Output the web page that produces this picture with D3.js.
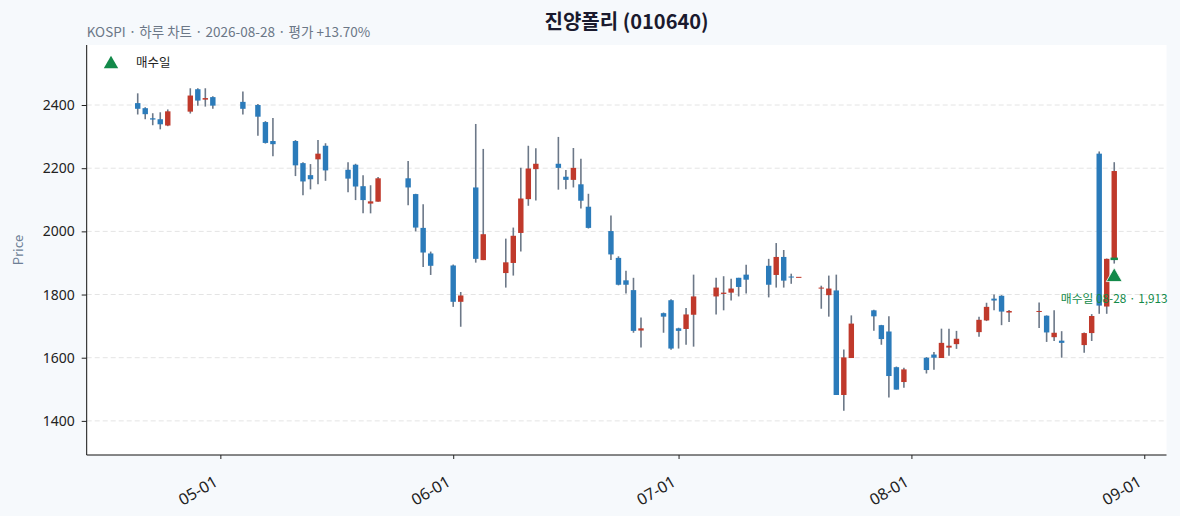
<!DOCTYPE html>
<html><head><meta charset="utf-8">
<script src="https://cdn.jsdelivr.net/npm/d3@7"></script>
<style>
body{margin:0;background:#f6f9fc;}
svg{display:block;font-family:"Noto Sans CJK KR","Noto Sans",sans-serif;}
</style></head>
<body><svg id="chart" width="1180" height="516"></svg>
<script>
const dates = ["2026-04-20","2026-04-21","2026-04-22","2026-04-23","2026-04-24","2026-04-27","2026-04-28","2026-04-29","2026-04-30",
"2026-05-04","2026-05-06","2026-05-07","2026-05-08","2026-05-11","2026-05-12","2026-05-13","2026-05-14","2026-05-15",
"2026-05-18","2026-05-19","2026-05-20","2026-05-21","2026-05-22","2026-05-26","2026-05-27","2026-05-28","2026-05-29",
"2026-06-01","2026-06-02","2026-06-04","2026-06-05","2026-06-08","2026-06-09","2026-06-10","2026-06-11","2026-06-12",
"2026-06-15","2026-06-16","2026-06-17","2026-06-18","2026-06-19","2026-06-22","2026-06-23","2026-06-24","2026-06-25","2026-06-26",
"2026-06-29","2026-06-30","2026-07-01","2026-07-02","2026-07-03","2026-07-06","2026-07-07","2026-07-08","2026-07-09","2026-07-10",
"2026-07-13","2026-07-14","2026-07-15","2026-07-16","2026-07-17","2026-07-20","2026-07-21","2026-07-22","2026-07-23","2026-07-24",
"2026-07-27","2026-07-28","2026-07-29","2026-07-30","2026-07-31","2026-08-03","2026-08-04","2026-08-05","2026-08-06","2026-08-07",
"2026-08-10","2026-08-11","2026-08-12","2026-08-13","2026-08-14","2026-08-18","2026-08-19","2026-08-20","2026-08-21",
"2026-08-24","2026-08-25","2026-08-26","2026-08-27","2026-08-28"];
const opens  = [2406,2390,2358,2355,2335,2379,2450,2417,2425,
2410,2400,2346,2286,2286,2216,2178,2228,2271,
2195,2211,2143,2088,2094,2168,2118,2011,1930,
1892,1777,2139,1909,1868,1900,1995,2102,2197,
2214,2173,2163,2149,2078,2001,1916,1845,1814,1686,
1741,1782,1693,1691,1736,1794,1802,1806,1853,1863,
1891,1862,1919,1857,1856,1819,1798,1813,1482,1599,
1750,1703,1683,1570,1523,1600,1610,1599,1632,1643,
1681,1718,1787,1796,1743,1746,1733,1665,1654,
1640,1678,2246,1762,1913];
const highs  = [2437,2393,2374,2377,2386,2453,2453,2453,2428,
2443,2403,2349,2359,2289,2219,2213,2289,2279,
2219,2214,2178,2146,2172,2223,2119,2086,1936,
1895,1808,2340,2261,1977,2012,2201,2271,2263,
2299,2194,2264,2230,2119,2050,1921,1875,1853,1727,
1743,1785,1695,1757,1863,1853,1858,1850,1853,1894,
1913,1963,1941,1866,1856,1828,1860,1863,1626,1734,
1752,1704,1731,1572,1568,1602,1618,1692,1692,1685,
1730,1774,1800,1798,1751,1775,1734,1750,1684,
1680,1738,2253,1914,2219];
const lows   = [2370,2355,2336,2323,2333,2373,2398,2395,2388,
2370,2303,2278,2238,2175,2114,2133,2149,2160,
2124,2099,2057,2057,2094,2083,2000,1887,1862,
1761,1698,1901,1909,1822,1860,1936,2081,2098,
2132,2133,2139,2072,2009,1909,1829,1803,1679,1632,
1679,1625,1629,1641,1635,1737,1750,1781,1794,1803,
1791,1822,1822,1834,1856,1755,1730,1482,1432,1599,
1685,1641,1474,1499,1505,1550,1562,1599,1606,1628,
1666,1716,1750,1703,1713,1694,1650,1653,1600,
1616,1653,1739,1739,1898];
const closes = [2388,2371,2354,2339,2380,2430,2414,2422,2398,
2388,2363,2280,2276,2209,2158,2165,2246,2193,
2167,2142,2099,2095,2168,2139,2012,1933,1891,
1777,1797,1913,1991,1902,1986,2104,2199,2214,
2201,2163,2201,2097,2011,1927,1831,1831,1685,1693,
1730,1629,1685,1737,1794,1822,1806,1819,1824,1847,
1831,1919,1844,1854,1856,1822,1819,1482,1601,1708,
1731,1659,1542,1499,1563,1561,1600,1647,1638,1660,
1720,1761,1781,1746,1748,1748,1680,1679,1647,
1678,1732,1765,1913,2191];
const monthTicks = ["2026-05-01","2026-06-01","2026-07-01","2026-08-01","2026-09-01"];
const yTicks = [1400,1600,1800,2000,2200,2400];
const buyDate = "2026-08-28";
const buyPrice = 1913;
const titleText = "진양폴리 (010640)";
const subtitleText = "KOSPI · 하루 차트 · 2026-08-28 · 평가 +13.70%";
const legendLabel = "매수일";
const yLabel = "Price";

const parse = d3.timeParse("%Y-%m-%d");
const data = dates.map((d,i)=>({date:parse(d),o:opens[i],h:highs[i],l:lows[i],c:closes[i]}));

const svg = d3.select("#chart");
const L=86.7, R=1166.5, T=45, B=455;
const first=data[0].date, last=data[data.length-1].date;
const x = d3.scaleTime()
  .domain([d3.timeHour.offset(first,-163), d3.timeHour.offset(last,167)])
  .range([L,R]);
const y = d3.scaleLinear().domain([1292,2590]).range([B,T]);

const UP="#c0392b", DOWN="#2b7bba", WICK="#6c7888", GREEN="#138a4a";

svg.append("rect").attr("x",L).attr("y",T).attr("width",R-L).attr("height",B-T).attr("fill","#fff");

// grid
svg.append("g").selectAll("line").data(yTicks).join("line")
  .attr("x1",L).attr("x2",R).attr("y1",d=>y(d)).attr("y2",d=>y(d))
  .attr("stroke","#e4e4e4").attr("stroke-width",1).attr("stroke-dasharray","5,3");

// candles
const dayPx = x(d3.timeDay.offset(first,1)) - x(first);
const bw = dayPx*0.72;
const g = svg.append("g");
g.selectAll("line.w").data(data).join("line").attr("class","w")
  .attr("x1",d=>x(d.date)).attr("x2",d=>x(d.date))
  .attr("y1",d=>y(d.h)).attr("y2",d=>y(d.l))
  .attr("stroke",WICK).attr("stroke-width",1.6);
g.selectAll("rect.b").data(data).join("rect").attr("class","b")
  .attr("x",d=>x(d.date)-bw/2).attr("width",bw)
  .attr("y",d=>y(Math.max(d.o,d.c)))
  .attr("height",d=>Math.max(1,Math.abs(y(d.o)-y(d.c))))
  .attr("fill",d=>d.c>=d.o?UP:DOWN);

// buy marker
const bd = parse(buyDate);
svg.append("line").attr("x1",x(bd)-bw/2-1).attr("x2",x(bd)+bw/2+1)
  .attr("y1",y(buyPrice)).attr("y2",y(buyPrice))
  .attr("stroke",GREEN).attr("stroke-width",2.5);
const tri = d3.symbol().type(d3.symbolTriangle).size(110);
svg.append("path").attr("d",tri()).attr("fill",GREEN).attr("stroke","#fff").attr("stroke-width",0.8)
  .attr("transform",`translate(${x(bd)},${y(buyPrice*0.97)})`);
svg.append("text").attr("x",x(bd)).attr("y",y(buyPrice*0.97)+26)
  .attr("text-anchor","middle").attr("fill",GREEN).attr("font-size",11.8)
  .text(`매수일 ${d3.timeFormat("%m-%d")(bd)} · ${d3.format(",")(buyPrice)}`);

// axes
const yAxis = d3.axisLeft(y).tickValues(yTicks).tickSize(5).tickPadding(7).tickFormat(d3.format("d"));
const ya = svg.append("g").attr("transform",`translate(${L},0)`).call(yAxis);
ya.select(".domain").attr("d",`M0,${T}V${B}`).attr("stroke","#111");
ya.selectAll("text").attr("font-size",14).attr("fill","#222").attr("font-family","'Noto Sans',sans-serif");
ya.selectAll(".tick line").attr("stroke","#222");

const xAxis = d3.axisBottom(x).tickValues(monthTicks.map(parse)).tickFormat(d3.timeFormat("%m-%d")).tickSize(4);
const xa = svg.append("g").attr("transform",`translate(0,${B})`).call(xAxis);
xa.select(".domain").attr("d",`M${L},0H${R}`).attr("stroke","#111");
xa.selectAll(".tick line").attr("stroke","#222");
xa.selectAll("text").attr("font-size",16).attr("fill","#222").attr("font-family","'Noto Sans',sans-serif")
  .attr("text-anchor","end").attr("dy",null).attr("y",0)
  .attr("transform","translate(-2,30) rotate(-30)");

// labels
svg.append("text").attr("x",(L+R)/2).attr("y",29).attr("text-anchor","middle")
  .attr("font-size",20).attr("font-weight","bold").attr("fill","#1a1a2e").text(titleText);
svg.append("text").attr("x",L).attr("y",37).attr("font-size",13.5).attr("fill","#6b7787").text(subtitleText);
svg.append("text").attr("transform",`translate(23,${(T+B)/2}) rotate(-90)`).attr("text-anchor","middle")
  .attr("font-size",13).attr("fill","#6e7f96").text(yLabel);

// legend
svg.append("path").attr("d",d3.symbol().type(d3.symbolTriangle).size(90)()).attr("fill",GREEN)
  .attr("transform","translate(111,64)");
svg.append("text").attr("x",136).attr("y",67).attr("font-size",12.5).attr("fill","#222").text(legendLabel);
</script></body></html>
